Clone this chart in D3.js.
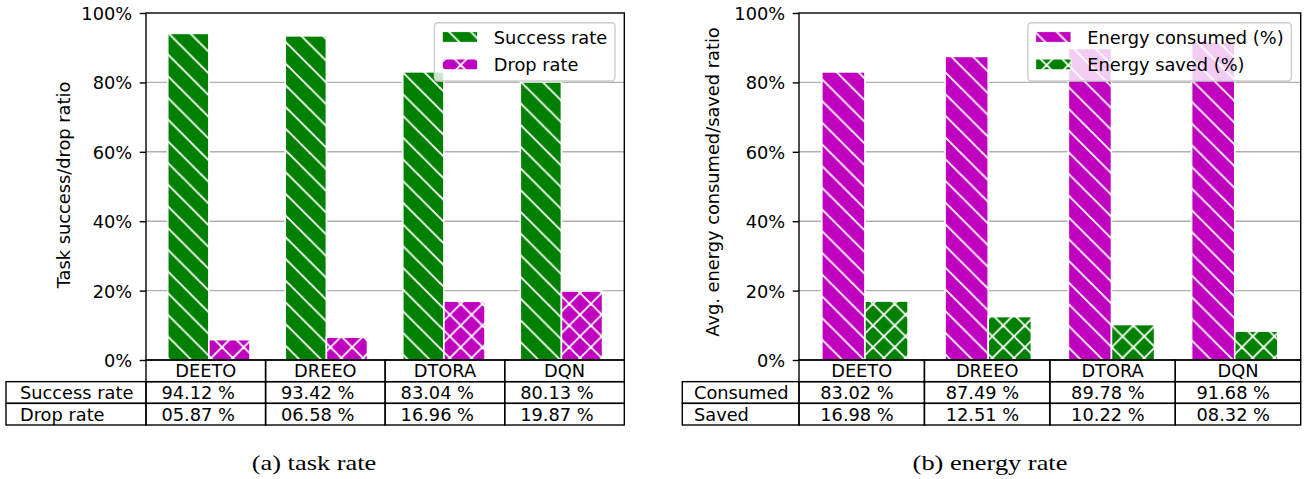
<!DOCTYPE html>
<html>
<head>
<meta charset="utf-8">
<script src="https://cdn.jsdelivr.net/npm/d3@7"></script>
<style>
  body { margin: 0; background: #fff; }
  svg { display: block; }
  text { font-family: "DejaVu Sans", sans-serif; fill: #000; }
</style>
</head>
<body>
<svg id="chart" width="1305" height="479"></svg>
<script>
// ---- data ----
const categories = ["DEETO", "DREEO", "DTORA", "DQN"];
const successRate = [94.12, 93.42, 83.04, 80.13];
const dropRate = [5.87, 6.58, 16.96, 19.87];
const energyConsumed = [83.02, 87.49, 89.78, 91.68];
const energySaved = [16.98, 12.51, 10.22, 8.32];
const yTicks = [0, 20, 40, 60, 80, 100];
const taskSeriesNames = ["Success rate", "Drop rate"];
const energySeriesNames = ["Energy consumed (%)", "Energy saved (%)"];
const taskRowLabels = ["Success rate", "Drop rate"];
const energyRowLabels = ["Consumed", "Saved"];
const yAxisTitles = ["Task success/drop ratio", "Avg. energy consumed/saved ratio"];
const captions = ["(a) task rate", "(b) energy rate"];

// ---- styling ----
const GREEN = "#008000";
const MAGENTA = "#bf00bf";
const FONT = 17.8;
const HATCH = 21.7;      // hatch period in px
const HATCH_W = 1.8;     // hatch stroke width
const BAR_W = 0.35;      // bar width in category units
const TOP = 13, BOTTOM = 360, ROW_H = 21.67;

const svg = d3.select("#chart");
const defs = svg.append("defs");

// hatch fills: "back" = \\ lines, "cross" = x lines
function hatchPattern(id, color, kind) {
  const p = defs.append("pattern")
    .attr("id", id)
    .attr("patternUnits", "userSpaceOnUse")
    .attr("width", HATCH).attr("height", HATCH)
    .attr("patternTransform", "translate(5,0)");
  p.append("rect").attr("width", HATCH).attr("height", HATCH).attr("fill", color);
  const g = p.append("g").attr("stroke", "#fff").attr("stroke-width", HATCH_W);
  [-HATCH, 0, HATCH].forEach(k => {
    g.append("line").attr("x1", k - 2).attr("y1", -2).attr("x2", k + HATCH + 2).attr("y2", HATCH + 2);
  });
  if (kind === "cross") {
    [0, HATCH, 2 * HATCH].forEach(k => {
      g.append("line").attr("x1", k + 2).attr("y1", -2).attr("x2", k - HATCH - 2).attr("y2", HATCH + 2);
    });
  }
  return `url(#${id})`;
}
const fills = {
  greenBack: hatchPattern("greenBack", GREEN, "back"),
  greenCross: hatchPattern("greenCross", GREEN, "cross"),
  magBack: hatchPattern("magBack", MAGENTA, "back"),
  magCross: hatchPattern("magCross", MAGENTA, "cross")
};

const fmtCell = d => d3.format("05.2f")(d) + " %";

const panels = [
  {
    left: 146, right: 624.3, labelLeft: 6,
    yTitleX: 69.5, yTitleY: 185, captionX: 314,
    yTitle: yAxisTitles[0], caption: captions[0], rowLabels: taskRowLabels,
    series: [
      { name: taskSeriesNames[0], values: successRate, fill: fills.greenBack },
      { name: taskSeriesNames[1], values: dropRate, fill: fills.magCross }
    ]
  },
  {
    left: 799, right: 1300.7, labelLeft: 682.3,
    yTitleX: 719, yTitleY: 182, captionX: 990,
    yTitle: yAxisTitles[1], caption: captions[1], rowLabels: energyRowLabels,
    series: [
      { name: energySeriesNames[0], values: energyConsumed, fill: fills.magBack },
      { name: energySeriesNames[1], values: energySaved, fill: fills.greenCross }
    ]
  }
];

panels.forEach(pn => drawPanel(pn));

function drawPanel(pn) {
  const g = svg.append("g");
  const y = d3.scaleLinear().domain([0, 100]).range([BOTTOM, TOP]);
  // category positions with bars at i and i + BAR_W, 5% margins
  const lo = -BAR_W / 2, hi = (categories.length - 1) + BAR_W * 1.5;
  const m = (hi - lo) * 0.05;
  const x = d3.scaleLinear().domain([lo - m, hi + m]).range([pn.left, pn.right]);

  // grid
  g.append("g").selectAll("line")
    .data(yTicks.filter(t => t > 0 && t < 100))
    .join("line")
    .attr("x1", pn.left).attr("x2", pn.right)
    .attr("y1", d => y(d)).attr("y2", d => y(d))
    .attr("stroke", "#b0b0b0").attr("stroke-width", 1.4);

  // bars
  pn.series.forEach((s, j) => {
    g.append("g").selectAll("rect")
      .data(s.values)
      .join("rect")
      .attr("x", (d, i) => x(i + j * BAR_W - BAR_W / 2))
      .attr("width", (d, i) => x(i + j * BAR_W + BAR_W / 2) - x(i + j * BAR_W - BAR_W / 2))
      .attr("y", d => y(d))
      .attr("height", d => y(0) - y(d))
      .attr("fill", s.fill)
      .attr("stroke", "#fff").attr("stroke-width", 1.6);
  });

  // y axis
  const ax = g.append("g")
    .attr("transform", `translate(${pn.left},0)`)
    .call(d3.axisLeft(y).tickValues(yTicks).tickFormat(d => d + "%").tickSize(6.3).tickPadding(7.5));
  ax.select(".domain").remove();
  ax.selectAll(".tick line").attr("stroke", "#000").attr("stroke-width", 1.4);
  ax.selectAll(".tick text")
    .attr("font-family", "DejaVu Sans").attr("font-size", FONT).attr("dy", "0.36em");

  // spines
  g.append("rect")
    .attr("x", pn.left).attr("y", TOP)
    .attr("width", pn.right - pn.left).attr("height", BOTTOM - TOP)
    .attr("fill", "none").attr("stroke", "#000").attr("stroke-width", 1.4);

  // y title
  g.append("text")
    .attr("transform", `translate(${pn.yTitleX},${pn.yTitleY}) rotate(-90)`)
    .attr("text-anchor", "middle")
    .attr("font-size", FONT)
    .text(pn.yTitle);

  // legend
  const lg = g.append("g");
  const frame = lg.append("rect");
  const items = lg.selectAll("g.item").data(pn.series).join("g").attr("class", "item");
  const rowY = [37, 64.4];
  const texts = items.append("text")
    .attr("font-size", FONT)
    .attr("y", (d, i) => rowY[i] + 6.5)
    .text(d => d.name);
  const maxW = d3.max(texts.nodes(), n => n.getComputedTextLength());
  const pad = 7.8, handle = 35.4, gap = 16.2;
  const lw = pad + handle + gap + maxW + pad;
  const lx = pn.right - 9.3 - lw;
  frame.attr("x", lx).attr("y", TOP + 9.7)
    .attr("width", lw).attr("height", 58.3)
    .attr("rx", 3.5)
    .attr("fill", "#fff").attr("fill-opacity", 0.8)
    .attr("stroke", "#cccccc").attr("stroke-width", 1.4);
  items.append("rect")
    .attr("x", lx + pad).attr("y", (d, i) => rowY[i] - 5.4)
    .attr("width", handle).attr("height", 10.8)
    .attr("fill", d => d.fill)
    .attr("stroke", "#fff").attr("stroke-width", 1);
  texts.attr("x", lx + pad + handle + gap);

  // table
  const col = d3.scaleBand().domain(categories).range([pn.left, pn.right]);
  const tb = g.append("g");
  const cellStroke = c => c.attr("fill", "none").attr("stroke", "#000").attr("stroke-width", 1.4);
  // header row
  categories.forEach(c => {
    cellStroke(tb.append("rect").attr("x", col(c)).attr("y", BOTTOM)
      .attr("width", col.bandwidth()).attr("height", ROW_H));
    tb.append("text").attr("x", col(c) + col.bandwidth() / 2)
      .attr("y", BOTTOM + ROW_H / 2 + 6.5)
      .attr("text-anchor", "middle").attr("font-size", FONT).text(c);
  });
  // data rows
  pn.series.forEach((s, r) => {
    const top = BOTTOM + ROW_H * (r + 1);
    const lwid = pn.left - pn.labelLeft;
    cellStroke(tb.append("rect").attr("x", pn.labelLeft).attr("y", top)
      .attr("width", lwid).attr("height", ROW_H));
    tb.append("text").attr("x", pn.labelLeft + lwid * 0.1)
      .attr("y", top + ROW_H / 2 + 6.5)
      .attr("font-size", FONT).text(pn.rowLabels[r]);
    s.values.forEach((v, i) => {
      const c = categories[i];
      cellStroke(tb.append("rect").attr("x", col(c)).attr("y", top)
        .attr("width", col.bandwidth()).attr("height", ROW_H));
      tb.append("text").attr("x", col(c) + col.bandwidth() - 30.7)
        .attr("y", top + ROW_H / 2 + 6.5)
        .attr("text-anchor", "end").attr("font-size", FONT).text(fmtCell(v));
    });
  });

  // caption
  g.append("text")
    .attr("transform", `translate(${pn.captionX},470) scale(1.2,1)`)
    .attr("text-anchor", "middle")
    .style("font-family", "'Liberation Serif', serif")
    .attr("font-size", 22)
    .text(pn.caption);
}
</script>
</body>
</html>
